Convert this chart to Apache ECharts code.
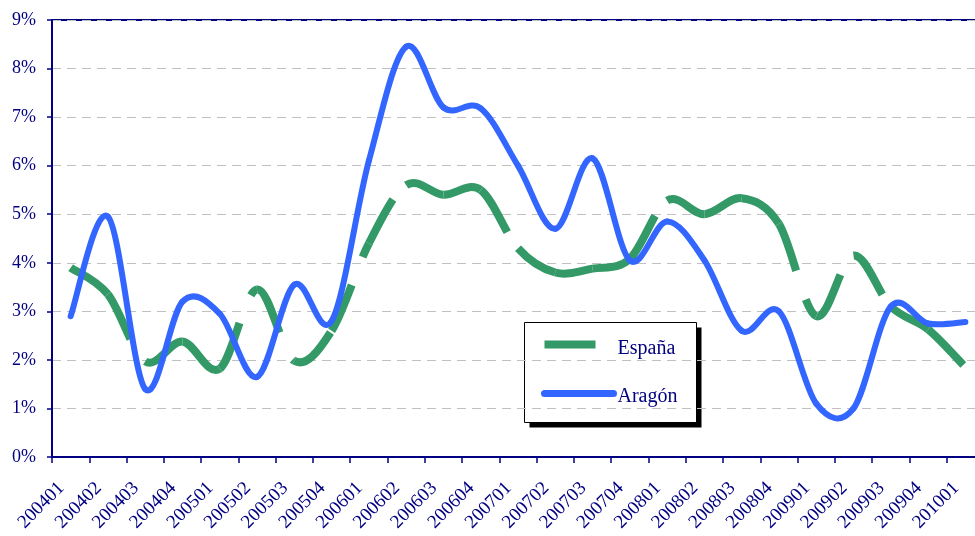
<!DOCTYPE html>
<html>
<head>
<meta charset="utf-8">
<script src="https://cdn.jsdelivr.net/npm/echarts@6/dist/echarts.min.js"></script>
<style>
  html, body { margin: 0; padding: 0; background: #ffffff; overflow: hidden; width: 975px; height: 536px; }
  /* the plot area runs a little past the right edge of the page */
  #chart { width: 1000px; height: 536px; }
</style>
</head>
<body>
<div id="chart"></div>
<script>
// Quarterly periods (year + quarter)
const quarters = [
  '200401', '200402', '200403', '200404',
  '200501', '200502', '200503', '200504',
  '200601', '200602', '200603', '200604',
  '200701', '200702', '200703', '200704',
  '200801', '200802', '200803', '200804',
  '200901', '200902', '200903', '200904',
  '201001'
];

// Rates in percent
const espana = [
  3.90, 3.35, 1.97, 2.38,
  1.82, 3.45, 1.98, 2.60,
  4.40, 5.60, 5.40, 5.50,
  4.30, 3.80, 3.88, 4.08,
  5.28, 5.00, 5.33, 4.80,
  2.90, 4.15, 3.10, 2.63,
  1.85
];

const aragon = [
  2.90, 4.95, 1.40, 3.20,
  2.95, 1.65, 3.55, 2.80,
  6.10, 8.45, 7.20, 7.18,
  6.00, 4.70, 6.15, 4.05,
  4.85, 4.05, 2.60, 3.00,
  1.10, 1.00, 3.10, 2.75,
  2.78
];

const yTickLabels = ['0%', '1%', '2%', '3%', '4%', '5%', '6%', '7%', '8%', '9%'];

const NAVY = '#000080';
const GREEN = '#339966';
const BLUE = '#3366ff';
const SERIF = '"Liberation Serif", "Times New Roman", serif';

// Draws one smoothed (cardinal Bezier) piece between point i and i+1.
// Each piece is its own path, so a dash pattern restarts at every point.
function smoothPiece(values, style) {
  const last = values.length - 1;
  const clampIdx = j => Math.max(0, Math.min(last, j));
  return function (params, api) {
    const i = params.dataIndex;
    if (i >= last) return null;
    const pt = j => api.coord([clampIdx(j), values[clampIdx(j)]]);
    const p0 = pt(i - 1), p1 = pt(i), p2 = pt(i + 1), p3 = pt(i + 2);
    return {
      type: 'bezierCurve',
      shape: {
        x1: p1[0], y1: p1[1],
        x2: p2[0], y2: p2[1],
        cpx1: p1[0] + (p2[0] - p0[0]) / 6,
        cpy1: p1[1] + (p2[1] - p0[1]) / 6,
        cpx2: p2[0] - (p3[0] - p1[0]) / 6,
        cpy2: p2[1] - (p3[1] - p1[1]) / 6
      },
      style: Object.assign({ fill: 'none' }, style)
    };
  };
}

const chart = echarts.init(document.getElementById('chart'), null, { renderer: 'canvas' });

const option = {
  animation: false,
  backgroundColor: '#ffffff',
  grid: {
    left: 52, top: 20, right: 16, bottom: 79,
    outerBoundsMode: 'none',
    show: true, borderColor: NAVY, borderWidth: 2, backgroundColor: 'transparent'
  },
  xAxis: {
    type: 'category',
    data: quarters,
    boundaryGap: true,
    axisLine: { show: true, lineStyle: { color: NAVY, width: 2 } },
    axisTick: { show: true, length: 6, lineStyle: { color: NAVY, width: 1.5 } },
    axisLabel: {
      interval: 0, rotate: 45, margin: 19, padding: [0, 13, 0, 0],
      color: NAVY, fontFamily: SERIF, fontSize: 19
    },
    splitLine: { show: false }
  },
  yAxis: {
    type: 'value',
    min: 0, max: 9, interval: 1,
    axisLine: { show: true, lineStyle: { color: NAVY, width: 2 } },
    axisTick: { show: true, length: 5, lineStyle: { color: NAVY, width: 1.5 } },
    axisLabel: {
      margin: 16, color: NAVY, fontFamily: SERIF, fontSize: 18,
      formatter: v => yTickLabels[Math.round(v)]
    },
    splitLine: { show: true, lineStyle: { color: '#c0c0c0', width: 1, type: [9, 6] } }
  },
  series: [
    {
      name: 'España',
      type: 'custom',
      renderItem: smoothPiece(espana, {
        stroke: GREEN, lineWidth: 8, lineDash: [50, 30], lineCap: 'butt'
      }),
      encode: { x: 0, y: 1 },
      data: espana.map((v, i) => [i, v]),
      z: 3
    },
    {
      name: 'Aragón',
      type: 'custom',
      renderItem: smoothPiece(aragon, {
        stroke: BLUE, lineWidth: 6, lineCap: 'round', lineJoin: 'round'
      }),
      encode: { x: 0, y: 1 },
      data: aragon.map((v, i) => [i, v]),
      z: 4
    }
  ],
  graphic: [
    {
      type: 'group',
      left: 524, top: 322, z: 100,
      children: [
        { type: 'rect', shape: { x: 5, y: 5, width: 172, height: 100 }, style: { fill: '#000000' } },
        { type: 'rect', shape: { x: 0, y: 0, width: 172, height: 100 },
          style: { fill: '#ffffff', stroke: '#000000', lineWidth: 1 } },
        { type: 'rect', shape: { x: 20, y: 18, width: 51, height: 8 }, style: { fill: GREEN } },
        { type: 'text', x: 93, y: 26,
          style: { text: 'España', font: '20px ' + SERIF, fill: NAVY,
                   verticalAlign: 'middle', textVerticalAlign: 'middle' } },
        { type: 'line', shape: { x1: 20, y1: 71, x2: 89, y2: 71 },
          style: { stroke: BLUE, lineWidth: 7, lineCap: 'round' } },
        { type: 'text', x: 93, y: 74,
          style: { text: 'Aragón', font: '20px ' + SERIF, fill: NAVY,
                   verticalAlign: 'middle', textVerticalAlign: 'middle' } }
      ]
    }
  ]
};

chart.setOption(option);
</script>
</body>
</html>
